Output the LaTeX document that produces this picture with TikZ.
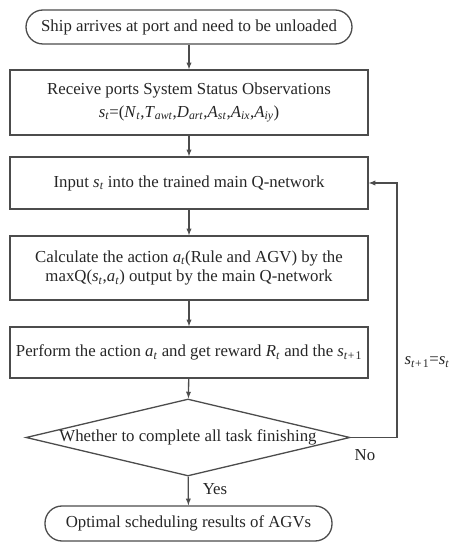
\documentclass[tikz,border=0pt]{standalone}
\usepackage{fontspec}
\setmainfont{Liberation Serif}
\usetikzlibrary{arrows}
\usetikzlibrary{shapes.geometric}
\newcommand{\vsub}[2]{\textit{#1}\textsubscript{\textit{#2}}}

\begin{document}
\begin{tikzpicture}[x=1pt,y=1pt,
    every node/.style={text=black!85, font=\fontsize{16.8}{19.5}\selectfont},
    box/.style={draw=black!70, line width=1.3pt, minimum width=358pt, align=center, inner sep=0pt},
    term/.style={box, rounded corners=17pt},
    decision/.style={draw=black!70, line width=1.3pt, diamond, aspect=4.2, minimum width=324pt, minimum height=77pt, inner sep=0pt},
    flow/.style={draw=black!70, line width=1.3pt, -latex}]
    \path[use as bounding box] (0,0) rectangle (452,550);
    % Boxes.
    \node[term, minimum width=326pt, minimum height=34pt] (ship) at (189,523) {Ship arrives at port and need to be unloaded};
    \node[box, minimum height=65pt] (observe) at (189,447.5) {Receive ports System Status Observations\\[3pt] \vsub{s}{t}=(\vsub{N}{t},\vsub{T}{awt},\vsub{D}{art},\vsub{A}{st},\vsub{A}{ix},\vsub{A}{iy})};
    \node[box, minimum height=52pt] (input) at (189,367) {Input \vsub{s}{t} into the trained main Q-network};
    \node[box, minimum height=64pt] (action) at (189,282) {Calculate the action \vsub{a}{t}(Rule and AGV) by the\\ maxQ(\vsub{s}{t},\vsub{a}{t}) output by the main Q-network};
    \node[box, minimum height=51pt] (reward) at (189,197.5) {Perform the action \vsub{a}{t} and get reward \vsub{R}{t} and the \vsub{s}{t+}\textsubscript{1}};
    \node[decision] (finished) at (188,112.5) {Whether to complete all task finishing};
    \node[term, minimum width=287pt, minimum height=35pt] (result) at (188.5,26.5) {Optimal scheduling results of AGVs};
    % Arrows.
    \draw[flow] (ship) -- (observe);
    \draw[flow] (observe) -- (input);
    \draw[flow] (input) -- (action);
    \draw[flow] (action) -- (reward);
    \draw[flow] (reward) -- (finished);
    \draw[flow] (finished) -- (result);
    % Feedback loop.
    \coordinate (back) at (397,367);
    \draw[flow] (finished.east) -| (back) -- (input.east);
    % Labels.
    \node (yes) at (215,61) {Yes};
    \node (no) at (365,95) {No};
    \node (update) at (427,188) {\vsub{s}{t+}\textsubscript{1}=\vsub{s}{t}};
\end{tikzpicture}
\end{document}
